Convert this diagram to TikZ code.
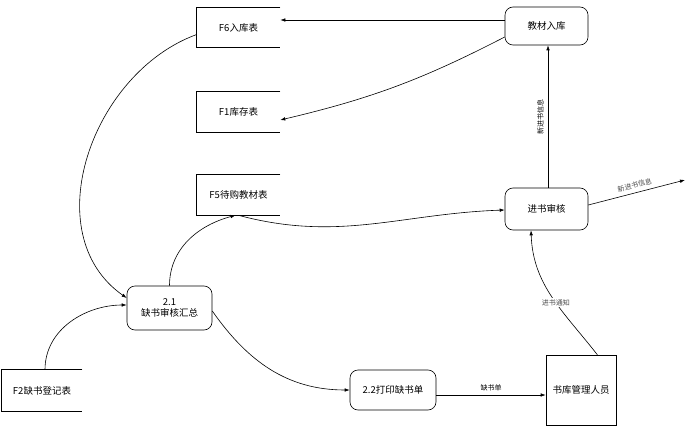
\documentclass[tikz,border=0pt]{standalone}
\usepackage{fontspec}
\setmainfont{Noto Sans CJK SC}
\usetikzlibrary{arrows.meta}
\begin{document}
\begin{tikzpicture}[x=1pt,y=-1pt,
  every node/.style={font=\fontsize{9.5}{11}\selectfont},
  store/.style={minimum width=83pt, minimum height=40pt, inner sep=0pt},
  proc/.style={draw, rounded corners=8pt, minimum width=83pt, minimum height=40pt, inner sep=0pt, align=center, line width=0.6pt},
  ext/.style={draw, minimum width=70pt, minimum height=70pt, inner sep=0pt, line width=0.6pt},
  arr/.style={-{Latex[length=5pt,width=3.5pt]}, line width=0.6pt},
  lbl/.style={font=\fontsize{7}{8}\selectfont, inner sep=1pt},
  line width=0.6pt]
\useasboundingbox[fill=white] (0,0) rectangle (693,428);

\node[store] (F6) at (238.5,27.5) {F6入库表};
\node[store] (F1) at (238.5,112) {F1库存表};
\node[store] (F5) at (238.5,195) {F5待购教材表};
\node[store, minimum width=80pt, minimum height=41pt] (F2) at (42,390.5) {F2缺书登记表};
\foreach \n in {F6,F1,F5,F2}
  \draw (\n.north east) -- (\n.north west) -- (\n.south west) -- (\n.south east);

\node[proc, minimum height=38pt] (jc) at (546.5,26) {教材入库};
\node[proc, minimum height=42pt] (jh) at (546.5,209) {进书审核};
\node[proc, minimum width=85pt, minimum height=44pt] (p21) at (169.5,308) {2.1\\缺书审核汇总};
\node[proc, minimum width=86pt] (p22) at (393,390) {2.2打印缺书单};
\node[ext] (sk) at (581,390) {书库管理人员};
\coordinate (out) at (685,180);

% 教材入库 -> F6
\draw[arr] ([yshift=6pt]jc.west) -- ([yshift=6pt]jc.west -| F6.east);
% 教材入库 -> F1
\draw[arr] ([yshift=-11pt]jc.west) to[bend left=7] ([yshift=-8pt]F1.east);
% 进书审核 -> 教材入库
\draw[arr] ([xshift=1.5pt]jh.north) -- node[lbl, left=3pt, rotate=90, anchor=south] {新进书信息} ([xshift=1.5pt]jc.south);
% 进书审核 -> out
\draw[arr] ([yshift=4pt]jh.east) -- node[lbl, sloped, above=3pt, text=black!70] {新进书信息} (out);
% F5 -> 进书审核
\draw[arr] (F5.south) to[out=-15, in=182] ([yshift=-1pt]jh.west);
% 2.1 -> F5
\draw[arr] (p21.north) to[out=90, in=195] ([xshift=-3pt]F5.south);
% F6 -> 2.1
\draw[arr] ([yshift=-7pt]F6.west) to[out=200, in=145, looseness=1.05] ([yshift=10pt]p21.west);
% F2 -> 2.1
\draw[arr] ([xshift=3pt]F2.north) to[out=90, in=180] ([yshift=3pt]p21.west);
% 2.1 -> 2.2
\draw[arr] ([yshift=-3pt]p21.east) to[out=-55, in=180] (p22.west);
% 2.2 -> 书库管理人员
\draw[arr] ([yshift=-5pt]p22.east) -- node[lbl, above=3pt] {缺书单} ([yshift=-5pt]p22.east -| sk.west);
% 书库管理人员 -> 进书审核
\draw[arr] ([xshift=-19pt]sk.north east) to[out=128, in=-88] node[lbl, pos=0.45, fill=white, text=black!70] {进书通知} ([xshift=-15.5pt]jh.south);
\end{tikzpicture}
\end{document}
